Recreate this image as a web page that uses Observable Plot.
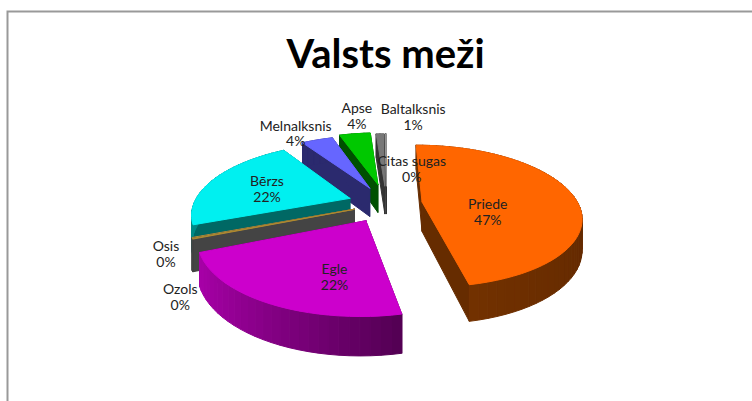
<!DOCTYPE html>
<html><head><meta charset="utf-8">
<script src="https://cdn.jsdelivr.net/npm/d3@7"></script>
<script src="https://cdn.jsdelivr.net/npm/@observablehq/plot@0.6"></script>
<style>html,body{margin:0;background:#fff}</style>
</head><body><div id="c"></div>
<script>
const title = "Valsts meži";
const names = ["Priede","Egle","Ozols","Osis","Bērzs","Melnalksnis","Apse","Baltalksnis","Citas sugas"];
const values = [47,22,0.15,0.15,22,4,4,1,0.15];
const shown = ["47%","22%","0%","0%","22%","4%","4%","1%","0%"];
const topColors = ["#ff6600","#cc00cc","#b08a30","#a89040","#00f0f0","#6666ff","#00c800","#777777","#999999"];
const wallColors = ["#662c00","#560056","#444444","#444444","#006864","#2b2a6e","#005000","#333333","#333333"];
const rimA = ["#642a00","#520052","#444444","#444444","#006864","#2b2a6e","#005000","#333333","#333333"];
const rimB = ["#763300","#a800a8","#444444","#444444","#008a86","#2b2a6e","#005000","#333333","#333333"];
const explode = [0.23,0.27,0.22,0.22,0.25,0.26,0.3,0.27,0.27];
const drawOrder = [7,8,6,5,4,3,2,1,0];
const labelOffX = [-88,65,-7,-21,53,-22,1,33,26], labelOffY = [17,-24,57,15,10,-7,-20,-18,34];

const W = 752, H = 401, A = 156, cx = 386, cy = 203;
const startDeg = 0, tilt = 0.44, depth = 0.19, persp = 0.2;
const rad = d => d * Math.PI / 180;
const pie = d3.pie().sort(null).startAngle(rad(startDeg)).endAngle(rad(startDeg + 360));
const arcs = pie(values);

function project(X, Y, drop = 0) {
  const w = 1 / (1 - persp * Y);
  return {x: X * w, y: tilt * Y * w + drop * w};
}
const polys = [], labels = [];
let id = 0;
function poly(pts, color) { id++; for (const p of [...pts, pts[0]]) polys.push({x: p.x, y: p.y, id, color}); }

for (const i of drawOrder) {
  const a = arcs[i], mid = (a.startAngle + a.endAngle) / 2, e = explode[i];
  const ox = e * Math.sin(mid), oy = -e * Math.cos(mid);
  const G = t => [ox + Math.sin(t), oy - Math.cos(t)];
  const apexT = project(ox, oy), apexB = project(ox, oy, depth);
  const rimT = t => project(...G(t)), rimBt = t => project(...G(t), depth);
  poly([apexT, rimT(a.startAngle), rimBt(a.startAngle), apexB], wallColors[i]);
  poly([apexT, rimT(a.endAngle), rimBt(a.endAngle), apexB], wallColors[i]);
  const n = Math.max(2, Math.ceil((a.endAngle - a.startAngle) / rad(3)));
  const ts = d3.range(n + 1).map(k => a.startAngle + (a.endAngle - a.startAngle) * k / n);
  const sins = ts.map(Math.sin), lo = d3.min(sins), hi = d3.max(sins);
  const shade = d3.interpolateRgb(rimB[i], rimA[i]);
  for (let k = 0; k < n; k++) {
    const mt = (ts[k] + ts[k + 1]) / 2;
    const f = hi > lo ? (Math.sin(mt) - lo) / (hi - lo) : 0.5;
    poly([rimT(ts[k]), rimT(ts[k + 1]), rimBt(ts[k + 1]), rimBt(ts[k])], shade(f));
  }
  poly([apexT, ...ts.map(rimT)], topColors[i]);
}
arcs.forEach((a, i) => {
  const mid = (a.startAngle + a.endAngle) / 2, e = 0.25;
  const p = project((e + 1) * Math.sin(mid), -(e + 1) * Math.cos(mid));
  labels.push({x: p.x + labelOffX[i] / A, y: p.y + labelOffY[i] / A, text: names[i] + "\n" + shown[i]});
});

const plot = Plot.plot({
  width: W, height: H, margin: 0,
  x: {domain: [-cx / A, (W - cx) / A], axis: null},
  y: {domain: [-cy / A, (H - cy) / A], axis: null, reverse: true},
  color: {type: "identity"},
  style: {background: "#fff"},
  marks: [
    Plot.frame({stroke: "#999", strokeWidth: 2, insetLeft: 7, insetTop: 11, insetRight: -10, insetBottom: -10}),
    Plot.line(polys, {x: "x", y: "y", z: "id", fill: "color", stroke: "color", strokeWidth: 1}),
    Plot.text(labels, {x: "x", y: "y", text: "text", fontSize: 14, lineHeight: 1.14, fill: "#222", fontFamily: "Lato"}),
    Plot.text([title], {frameAnchor: "top", dx: 9, dy: 39, fontSize: 40, fontWeight: "bold", fill: "#000", fontFamily: "Lato"}),
  ]
});
document.getElementById("c").append(plot);
</script></body></html>
